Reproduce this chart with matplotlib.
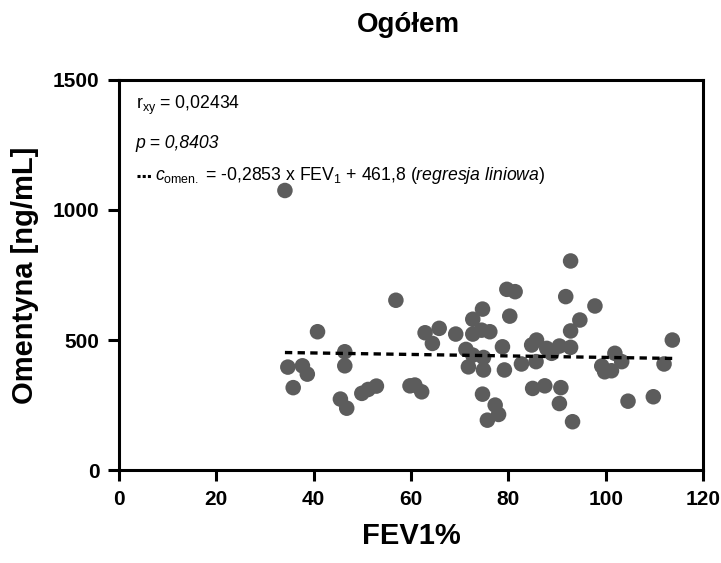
import matplotlib
matplotlib.use("Agg")
import matplotlib.pyplot as plt
import numpy as np

# FEV1% and omentin concentration for each patient
fev1 = [34.1, 34.7, 35.8, 37.7, 38.7, 40.8, 45.5, 46.4, 46.4, 46.8, 49.9, 51.2, 52.9,
        56.9, 59.8, 60.8, 62.2, 62.9, 64.4, 65.8, 69.2, 71.3, 71.8, 72.7, 72.7, 72.7,
        74.5, 74.7, 74.7, 74.9, 74.9, 75.7, 76.2, 77.3, 78.0, 78.8, 79.2, 79.7, 80.3,
        81.4, 82.7, 84.8, 85.0, 85.7, 85.8, 87.5, 87.9, 88.9, 90.5, 90.5, 90.8, 91.8,
        92.8, 92.8, 92.8, 93.2, 94.7, 97.8, 99.2, 99.8, 101.2, 101.9, 103.3, 104.6,
        109.8, 112.0, 113.7]
omentin = [1075, 396, 317, 401, 369, 532, 273, 455, 401, 238, 295, 310, 323,
           653, 324, 327, 301, 528, 487, 545, 523, 464, 397, 580, 523, 442,
           538, 619, 292, 433, 385, 192, 532, 250, 214, 474, 385, 695, 592,
           686, 408, 481, 314, 417, 500, 324, 468, 449, 477, 256, 317, 667,
           535, 472, 804, 186, 577, 631, 400, 378, 382, 449, 417, 265,
           282, 408, 500]

# Linear regression reported on the chart
slope = -0.2853
intercept = 461.8

x_ticks = [0, 20, 40, 60, 80, 100, 120]
y_ticks = [0, 500, 1000, 1500]

font = "Liberation Sans"
plt.rcParams["font.family"] = [font, "DejaVu Sans"]
plt.rcParams["mathtext.fontset"] = "custom"
plt.rcParams["mathtext.rm"] = font
plt.rcParams["mathtext.it"] = font + ":italic"

fig = plt.figure(figsize=(7.21, 5.63), dpi=100)
ax = fig.add_axes([0.165, 0.165, 0.810, 0.693])

ax.scatter(fev1, omentin, s=125, color="#5c5c5c", edgecolors="none", zorder=3)

xr = np.array([min(fev1), max(fev1)])
ax.plot(xr, slope * xr + intercept, color="black", lw=2.4, ls=(0, (2.2, 1.6)), zorder=4)

ax.set_xlim(0, 120)
ax.set_ylim(0, 1500)
ax.set_xticks(x_ticks)
ax.set_yticks(y_ticks)
ax.set_xticklabels([str(v) for v in x_ticks], fontweight="bold", fontsize=15)
ax.set_yticklabels([str(v) for v in y_ticks], fontweight="bold", fontsize=15)
ax.tick_params(direction="out", length=8, width=2.2, pad=6)
for sp in ax.spines.values():
    sp.set_linewidth(2.2)

ax.set_xlabel("FEV1%", fontweight="bold", fontsize=21, labelpad=10)
ax.set_ylabel("Omentyna [ng/mL]", fontweight="bold", fontsize=21, labelpad=10)
fig.text(0.566, 0.955, "Ogółem", fontweight="bold", fontsize=20, ha="center", va="center")

ax.text(0.029, 0.935, r"r$_{\mathrm{xy}}$ = 0,02434", transform=ax.transAxes,
        fontsize=12.7, va="center")
ax.text(0.029, 0.836, "p = 0,8403", transform=ax.transAxes,
        fontsize=12.7, style="italic", va="center")
# legend key for the regression line
ax.plot([0.031, 0.054], [0.753, 0.753], transform=ax.transAxes, color="black",
        lw=2.2, ls=(0, (1.0, 0.7)), solid_capstyle="butt", dash_capstyle="butt")
ax.text(0.061, 0.754,
        r"$\mathit{c}_{\mathrm{omen.}}$ = -0,2853 x FEV$_{\mathrm{1}}$ + 461,8 ($\mathit{regresja\ liniowa}$)",
        transform=ax.transAxes, fontsize=12.7, va="center")

fig.savefig("out.png", dpi=100)
